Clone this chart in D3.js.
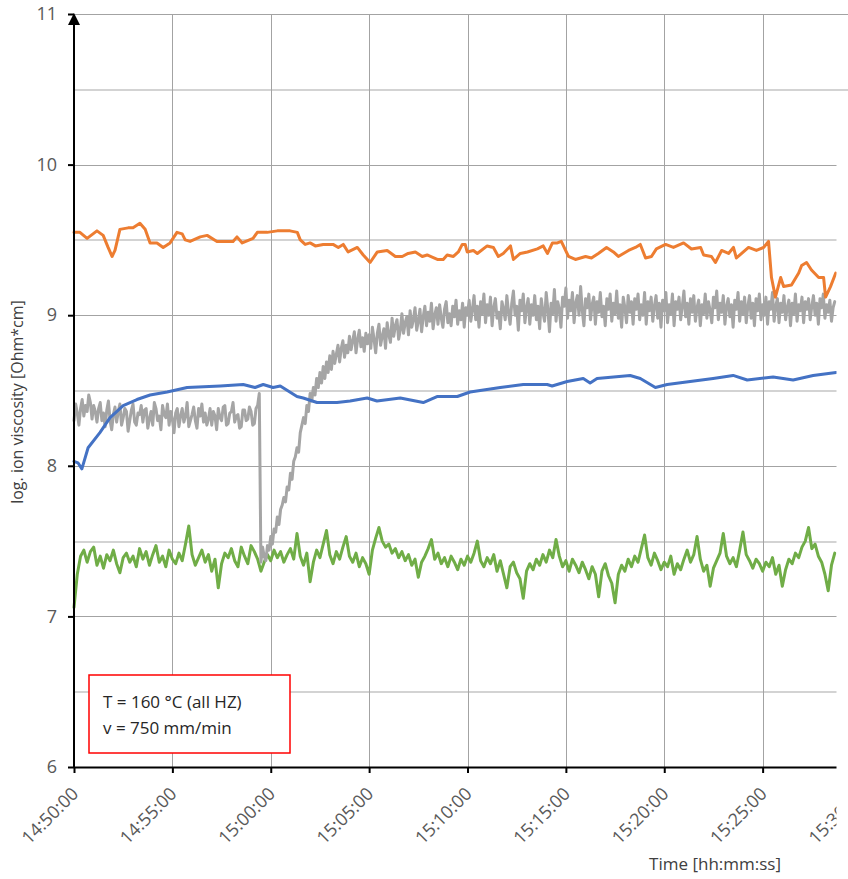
<!DOCTYPE html>
<html lang="en">
<head>
<meta charset="utf-8">
<title>Ion viscosity over time</title>
<script src="https://cdn.jsdelivr.net/npm/d3@7"></script>
<style>
    body {
        margin: 0;
        background: #fff;
        font-family: "Open Sans", "Noto Sans", sans-serif;
    }
    .grid line {
        stroke: #a3a3a3;
        stroke-width: 1;
        shape-rendering: crispEdges;
    }
    .grid.minor line {
        stroke: #d3d3d3;
        stroke-width: 2;
    }
    .grid .domain {
        display: none;
    }
    .series {
        fill: none;
        stroke-width: 3;
        stroke-linejoin: round;
        stroke-linecap: round;
    }
    .axis text {
        fill: #595959;
        font-size: 18px;
        font-family: "Open Sans", "Noto Sans", sans-serif;
    }
</style>
</head>
<body>
<svg width="848" height="879"></svg>
<script>
    // time labels on the x axis and value ticks on the y axis
    var xTicks = ["14:50:00", "14:55:00", "15:00:00", "15:05:00", "15:10:00",
                  "15:15:00", "15:20:00", "15:25:00", "15:30:00"];
    var yTicks = [6, 7, 8, 9, 10, 11];
    var yMinor = [6.5, 7.5, 8.5, 9.5, 10.5];

    // orange sensor, [time, log ion viscosity]
    var orangeSeries = [
        ["14:50:00", 9.55], ["14:50:18", 9.55], ["14:50:40", 9.51], ["14:51:10", 9.56], ["14:51:29", 9.53],
        ["14:51:44", 9.45], ["14:51:56", 9.39], ["14:52:05", 9.43], ["14:52:20", 9.57], ["14:52:45", 9.58],
        ["14:53:00", 9.58], ["14:53:21", 9.61], ["14:53:37", 9.57], ["14:53:52", 9.48], ["14:54:13", 9.48],
        ["14:54:32", 9.45], ["14:54:53", 9.48], ["14:55:14", 9.55], ["14:55:30", 9.54], ["14:55:39", 9.50],
        ["14:55:54", 9.49], ["14:56:25", 9.52], ["14:56:46", 9.53], ["14:57:16", 9.49], ["14:57:47", 9.49],
        ["14:58:05", 9.49], ["14:58:17", 9.52], ["14:58:33", 9.48], ["14:59:06", 9.51], ["14:59:19", 9.55],
        ["14:59:49", 9.55], ["15:00:20", 9.56], ["15:00:59", 9.56], ["15:01:21", 9.55], ["15:01:30", 9.50],
        ["15:01:45", 9.47], ["15:02:00", 9.48], ["15:02:16", 9.46], ["15:02:40", 9.47], ["15:03:10", 9.47],
        ["15:03:26", 9.45], ["15:03:41", 9.47], ["15:03:56", 9.42], ["15:04:24", 9.45], ["15:04:42", 9.40],
        ["15:05:03", 9.35], ["15:05:25", 9.42], ["15:05:55", 9.43], ["15:06:20", 9.39], ["15:06:41", 9.39],
        ["15:06:59", 9.41], ["15:07:21", 9.42], ["15:07:42", 9.39], ["15:07:57", 9.40], ["15:08:28", 9.37],
        ["15:08:46", 9.37], ["15:08:58", 9.40], ["15:09:17", 9.39], ["15:09:32", 9.42], ["15:09:44", 9.47],
        ["15:09:53", 9.47], ["15:09:59", 9.42], ["15:10:18", 9.43], ["15:10:30", 9.41], ["15:11:00", 9.46],
        ["15:11:19", 9.45], ["15:11:34", 9.39], ["15:11:49", 9.41], ["15:12:11", 9.46], ["15:12:20", 9.37],
        ["15:12:41", 9.41], ["15:13:03", 9.42], ["15:13:33", 9.44], ["15:13:51", 9.46], ["15:14:04", 9.41],
        ["15:14:19", 9.48], ["15:14:34", 9.48], ["15:14:46", 9.49], ["15:15:08", 9.39], ["15:15:29", 9.37],
        ["15:16:00", 9.39], ["15:16:18", 9.38], ["15:16:39", 9.41], ["15:17:04", 9.45], ["15:17:25", 9.42],
        ["15:17:40", 9.39], ["15:18:11", 9.43], ["15:18:32", 9.45], ["15:18:47", 9.47], ["15:19:03", 9.38],
        ["15:19:21", 9.39], ["15:19:36", 9.44], ["15:20:04", 9.47], ["15:20:28", 9.45], ["15:20:59", 9.48],
        ["15:21:23", 9.44], ["15:21:51", 9.45], ["15:22:00", 9.40], ["15:22:24", 9.39], ["15:22:36", 9.35],
        ["15:22:55", 9.43], ["15:23:16", 9.41], ["15:23:31", 9.45], ["15:23:40", 9.38], ["15:24:17", 9.45],
        ["15:24:41", 9.43], ["15:25:03", 9.45], ["15:25:18", 9.49], ["15:25:27", 9.25], ["15:25:39", 9.12],
        ["15:25:55", 9.25], ["15:26:04", 9.19], ["15:26:28", 9.20], ["15:26:50", 9.28], ["15:26:59", 9.33],
        ["15:27:14", 9.35], ["15:27:29", 9.30], ["15:27:51", 9.25], ["15:28:06", 9.25], ["15:28:12", 9.12],
        ["15:28:27", 9.19], ["15:28:43", 9.28]
    ];

    // blue sensor, [time, log ion viscosity]
    var blueSeries = [
        ["14:50:00", 8.03], ["14:50:12", 8.02], ["14:50:24", 7.98], ["14:50:43", 8.12], ["14:51:19", 8.22],
        ["14:51:50", 8.32], ["14:52:30", 8.40], ["14:53:12", 8.44], ["14:53:52", 8.47], ["14:54:44", 8.49],
        ["14:55:45", 8.52], ["14:57:26", 8.53], ["14:58:36", 8.54], ["14:59:12", 8.52], ["14:59:37", 8.54],
        ["15:00:07", 8.52], ["15:00:29", 8.53], ["15:01:20", 8.46], ["15:01:39", 8.45], ["15:02:21", 8.42],
        ["15:02:55", 8.42], ["15:03:22", 8.42], ["15:04:02", 8.43], ["15:04:54", 8.45], ["15:05:24", 8.43],
        ["15:06:35", 8.45], ["15:07:45", 8.42], ["15:08:27", 8.46], ["15:09:29", 8.46], ["15:10:08", 8.49],
        ["15:11:40", 8.52], ["15:12:50", 8.54], ["15:14:03", 8.54], ["15:14:18", 8.53], ["15:15:04", 8.56],
        ["15:15:53", 8.58], ["15:16:14", 8.55], ["15:16:35", 8.58], ["15:18:16", 8.60], ["15:18:47", 8.58],
        ["15:19:33", 8.52], ["15:20:09", 8.54], ["15:21:19", 8.56], ["15:22:29", 8.58], ["15:23:30", 8.60],
        ["15:24:13", 8.57], ["15:25:32", 8.59], ["15:26:33", 8.57], ["15:27:34", 8.60], ["15:28:44", 8.62]
    ];

    // gray and green sensors are logged at a fixed rate from 14:50:00
    var sampleStart = "14:50:00";
    var grayStep = 5;
    var greenStep = 10;

    var grayValues = [
        8.30, 8.41, 8.35, 8.27, 8.38, 8.44, 8.33, 8.40, 8.36, 8.47,
        8.42, 8.31, 8.40, 8.36, 8.29, 8.38, 8.42, 8.30, 8.35, 8.26,
        8.37, 8.43, 8.30, 8.24, 8.34, 8.39, 8.29, 8.36, 8.41, 8.27,
        8.32, 8.38, 8.36, 8.23, 8.30, 8.37, 8.41, 8.29, 8.27, 8.35,
        8.34, 8.40, 8.29, 8.37, 8.38, 8.25, 8.31, 8.36, 8.27, 8.42,
        8.38, 8.30, 8.33, 8.24, 8.40, 8.34, 8.32, 8.41, 8.27, 8.36,
        8.31, 8.22, 8.35, 8.38, 8.26, 8.33, 8.38, 8.29, 8.33, 8.42,
        8.26, 8.30, 8.34, 8.39, 8.30, 8.25, 8.38, 8.33, 8.41, 8.29,
        8.35, 8.27, 8.31, 8.38, 8.27, 8.36, 8.33, 8.24, 8.38, 8.32,
        8.30, 8.39, 8.40, 8.27, 8.28, 8.35, 8.36, 8.42, 8.29, 8.33,
        8.34, 8.25, 8.26, 8.37, 8.37, 8.30, 8.31, 8.39, 8.36, 8.27,
        8.28, 8.38, 8.40, 8.48,
        7.36, 7.46, 7.40, 7.37, 7.47, 7.44, 7.53, 7.48, 7.58, 7.56,
        7.66, 7.61, 7.71, 7.74, 7.79, 7.76, 7.86, 7.84, 7.95, 7.91,
        8.03, 8.06, 8.12, 8.09, 8.22, 8.27, 8.32, 8.28, 8.40, 8.36,
        8.48, 8.43, 8.52, 8.47, 8.58, 8.52, 8.62, 8.55, 8.66, 8.58,
        8.69, 8.62, 8.73, 8.64, 8.76, 8.68, 8.74, 8.80, 8.69, 8.78,
        8.83, 8.72, 8.80, 8.75, 8.86, 8.77, 8.83, 8.89, 8.75, 8.84,
        8.90, 8.79, 8.85, 8.76, 8.88, 8.81, 8.87,
        8.78, 8.92, 8.84, 8.75, 8.88, 8.94, 8.80, 8.86, 8.91, 8.78,
        8.95, 8.87, 8.82, 8.98, 8.86, 8.93, 8.97, 8.84, 8.90, 9.01,
        8.88, 8.95, 8.99, 8.87, 9.03, 8.92, 8.97, 9.05, 8.90, 8.96,
        9.04, 8.89, 8.99, 9.06, 8.93, 9.02, 8.96, 9.08, 8.91, 9.00,
        9.05, 8.94, 9.07, 8.98, 8.92, 9.04, 9.09, 8.95, 9.01, 8.93,
        9.06, 8.99, 9.10, 8.94, 9.03, 8.97, 9.08, 8.92, 9.05, 9.00,
        9.10, 8.96, 9.04, 9.13, 8.97, 9.06, 8.92, 9.09, 9.01, 9.14, 8.95, 9.07, 9.00, 9.12, 8.93, 9.05,
        9.11, 8.98, 9.02, 8.91, 9.09, 9.04, 8.97, 9.13, 9.02, 8.94, 9.08, 9.16, 9.00, 9.06, 8.90, 9.10,
        9.03, 9.14, 8.95, 9.05, 9.11, 8.94, 9.07, 9.00, 9.13, 8.97, 9.06, 8.91, 9.11, 9.02, 8.96, 9.15,
        9.04, 8.89, 9.08, 9.01, 9.17, 8.96, 9.09, 9.04, 8.92, 9.12, 9.06, 9.18, 8.98, 9.10, 9.03, 9.15,
        8.95, 9.08, 9.13, 9.00, 9.19, 9.03, 8.93, 9.11, 9.05, 9.14, 8.97, 9.07, 9.12, 8.94, 9.09, 9.02,
        9.15, 8.99, 9.06, 8.93, 9.11, 9.04, 9.14, 8.96, 9.08, 9.01, 9.16, 8.98, 9.07, 8.92, 9.12, 9.05,
        8.95, 9.13, 9.02, 9.09, 8.94, 9.11, 9.04, 9.14, 8.97, 9.07, 9.00, 9.15, 8.94, 9.09, 9.03, 9.12,
        8.96, 9.06, 9.13, 8.98, 9.08, 8.92, 9.10, 9.03, 9.15, 8.95, 9.07, 9.01, 9.14, 8.93, 9.09, 9.04,
        9.12, 8.97, 9.06, 9.16, 8.99, 9.08, 8.94, 9.11, 9.02, 9.13, 8.96, 9.05, 9.10, 8.93, 9.07, 9.01,
        9.14, 8.98, 9.09, 9.03, 8.95, 9.12, 9.05, 9.16, 8.97, 9.08, 9.02, 9.13, 8.94, 9.06, 9.11, 8.99,
        9.07, 8.92, 9.10, 9.04, 9.15, 8.96, 9.09, 9.01, 9.12, 8.95, 9.06, 9.13, 8.98, 9.08, 8.93, 9.11,
        9.03, 9.14, 8.97, 9.07, 9.00, 9.12, 8.94, 9.09, 9.04, 9.15, 8.96, 9.06, 9.11, 8.95, 9.08, 9.02,
        9.13, 8.97, 9.05, 9.10, 8.93, 9.08, 9.01, 9.14, 8.96, 9.07, 9.03, 9.12, 8.95, 9.09, 9.04, 9.11,
        8.97, 9.06, 9.13, 9.00, 9.08, 8.94, 9.11, 9.05, 9.14, 8.98, 9.07, 9.02, 9.10, 8.96, 9.05, 9.09
    ];

    var greenValues = [
        7.06, 7.28, 7.40, 7.44, 7.36, 7.43, 7.46, 7.34, 7.40, 7.32, 7.41, 7.37, 7.44, 7.35, 7.29, 7.39, 7.42, 7.36, 7.40, 7.33,
        7.45, 7.38, 7.43, 7.34, 7.41, 7.47, 7.36, 7.40, 7.33, 7.44, 7.38, 7.35, 7.42, 7.37, 7.48, 7.60, 7.41, 7.34, 7.39, 7.44,
        7.36, 7.41, 7.30, 7.38, 7.19, 7.35, 7.42, 7.39, 7.45, 7.37, 7.33, 7.46, 7.40, 7.35, 7.47, 7.43, 7.38, 7.30, 7.36, 7.41,
        7.37, 7.44, 7.39, 7.43, 7.36, 7.41, 7.45, 7.38, 7.55, 7.40, 7.34, 7.42, 7.23, 7.36, 7.44, 7.39, 7.48, 7.57, 7.41, 7.35,
        7.43, 7.38, 7.46, 7.53, 7.40, 7.36, 7.42, 7.33, 7.39, 7.35, 7.28, 7.44, 7.52, 7.59, 7.50, 7.46, 7.48, 7.42, 7.45, 7.39,
        7.43, 7.37, 7.41, 7.34, 7.38, 7.26, 7.36, 7.40, 7.45, 7.51, 7.38, 7.42, 7.35, 7.39, 7.33, 7.40, 7.36, 7.31, 7.38, 7.34,
        7.40, 7.36, 7.42, 7.50, 7.37, 7.33, 7.39, 7.35, 7.41, 7.30, 7.37, 7.28, 7.19, 7.33, 7.36, 7.29, 7.25, 7.12, 7.30, 7.35,
        7.31, 7.38, 7.34, 7.41, 7.36, 7.44, 7.39, 7.51, 7.40, 7.33, 7.37, 7.30, 7.38, 7.34, 7.29, 7.36, 7.31, 7.25, 7.33, 7.28,
        7.13, 7.30, 7.35, 7.27, 7.22, 7.09, 7.28, 7.34, 7.30, 7.38, 7.33, 7.40, 7.36, 7.45, 7.54, 7.39, 7.34, 7.42, 7.37, 7.31,
        7.36, 7.33, 7.40, 7.28, 7.35, 7.31, 7.38, 7.44, 7.36, 7.41, 7.53, 7.38, 7.30, 7.34, 7.20, 7.32, 7.37, 7.42, 7.55, 7.40,
        7.35, 7.39, 7.33, 7.44, 7.56, 7.41, 7.37, 7.32, 7.38, 7.35, 7.30, 7.36, 7.33, 7.39, 7.28, 7.34, 7.20, 7.31, 7.38, 7.35,
        7.42, 7.39, 7.46, 7.50, 7.59, 7.45, 7.48, 7.40, 7.36, 7.28, 7.17, 7.34, 7.42
    ];

    var parseTime = d3.timeParse("%H:%M:%S");

    function fromPairs(pairs) {
        return pairs.map(function (p) {
            return {t: parseTime(p[0]), v: p[1]};
        });
    }

    function fromSamples(values, step) {
        var t0 = parseTime(sampleStart);
        return values.map(function (v, i) {
            return {t: d3.timeSecond.offset(t0, i * step), v: v};
        });
    }

    var svg = d3.select("svg");

    var plotLeft = 74, plotRight = 861, plotTop = 14, plotBottom = 767;

    var x = d3.scaleTime()
        .domain([parseTime(xTicks[0]), parseTime(xTicks[xTicks.length - 1])])
        .range([plotLeft, plotRight]);

    var y = d3.scaleLinear()
        .domain([6, 11])
        .range([plotBottom, plotTop]);

    // gridlines
    svg.append("g")
        .attr("class", "grid minor")
        .attr("transform", "translate(" + plotLeft + ",0)")
        .call(d3.axisLeft(y).tickValues(yMinor).tickSize(-(plotRight - plotLeft)).tickFormat(""));

    svg.append("g")
        .attr("class", "grid")
        .attr("transform", "translate(" + plotLeft + ",0)")
        .call(d3.axisLeft(y).tickValues(yTicks.slice(1)).tickSize(-(plotRight - plotLeft)).tickFormat(""));

    svg.append("g")
        .attr("class", "grid")
        .attr("transform", "translate(0," + plotBottom + ")")
        .call(d3.axisBottom(x).tickValues(xTicks.slice(1).map(parseTime)).tickSize(-(plotBottom - plotTop)).tickFormat(""));

    var line = d3.line()
        .x(function (d) { return x(d.t); })
        .y(function (d) { return y(d.v); });

    var series = [
        {data: fromSamples(greenValues, greenStep), color: "#70ad47"},
        {data: fromSamples(grayValues, grayStep), color: "#a5a5a5"},
        {data: fromPairs(blueSeries), color: "#4472c4"},
        {data: fromPairs(orangeSeries), color: "#ed7d31"}
    ];

    svg.selectAll(".series")
        .data(series)
        .enter().append("path")
        .attr("class", "series")
        .attr("stroke", function (d) { return d.color; })
        .attr("d", function (d) { return line(d.data); });

    // x axis
    var xAxis = svg.append("g")
        .attr("class", "axis")
        .attr("transform", "translate(0," + plotBottom + ")")
        .call(d3.axisBottom(x)
            .tickValues(xTicks.map(parseTime))
            .tickSize(6)
            .tickSizeOuter(0)
            .tickFormat(d3.timeFormat("%H:%M:%S")));

    xAxis.selectAll("line, path").attr("stroke", "#000").attr("stroke-width", 2);
    xAxis.selectAll("text")
        .attr("x", 0)
        .attr("y", 0)
        .attr("dy", 0)
        .attr("text-anchor", "end")
        .attr("transform", "translate(5,28) rotate(-45)");

    // y axis
    var yAxis = svg.append("g")
        .attr("class", "axis")
        .attr("transform", "translate(" + plotLeft + ",0)")
        .call(d3.axisLeft(y)
            .tickValues(yTicks)
            .tickSize(6)
            .tickPadding(11)
            .tickSizeOuter(0)
            .tickFormat(d3.format("d")));

    yAxis.select(".domain").remove();
    yAxis.selectAll("line").attr("stroke", "#000").attr("stroke-width", 2);

    svg.append("line")
        .attr("x1", plotLeft).attr("x2", plotLeft)
        .attr("y1", plotBottom + 1).attr("y2", plotTop + 8)
        .attr("stroke", "#000")
        .attr("stroke-width", 2);

    svg.append("path")
        .attr("d", "M" + plotLeft + "," + (plotTop - 1) + "L" + (plotLeft - 6) + "," + (plotTop + 11) +
            "L" + (plotLeft + 6) + "," + (plotTop + 11) + "Z")
        .attr("fill", "#000");

    // the picture is cut off on the right below the upper gridlines
    svg.append("rect")
        .attr("x", 836.5)
        .attr("y", 93)
        .attr("width", 20)
        .attr("height", 800)
        .attr("fill", "#fff");

    // axis titles
    svg.append("text")
        .attr("transform", "translate(23,402) rotate(-90)")
        .attr("text-anchor", "middle")
        .style("font-size", "16px")
        .style("fill", "#404040")
        .text("log. ion viscosity [Ohm*cm]");

    svg.append("text")
        .attr("x", 781)
        .attr("y", 870)
        .attr("text-anchor", "end")
        .style("font-size", "17px")
        .style("fill", "#404040")
        .text("Time [hh:mm:ss]");

    // note box
    svg.append("rect")
        .attr("x", 89)
        .attr("y", 675)
        .attr("width", 201)
        .attr("height", 78)
        .attr("fill", "#fff")
        .attr("stroke", "#ff0000")
        .attr("stroke-width", 1.5);

    var note = svg.append("text")
        .style("font-size", "17px")
        .style("fill", "#262626");
    note.append("tspan").attr("x", 103).attr("y", 708).text("T = 160 °C (all HZ)");
    note.append("tspan").attr("x", 103).attr("y", 734).text("v = 750 mm/min");
</script>
</body>
</html>
